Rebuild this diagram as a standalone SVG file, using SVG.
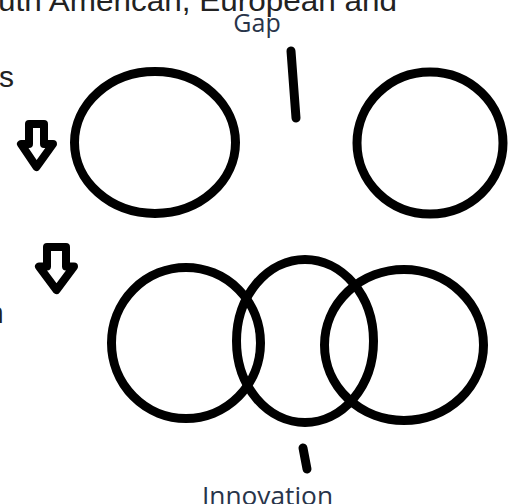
<svg xmlns="http://www.w3.org/2000/svg" width="530" height="504" viewBox="0 0 530 504">
<style>
.body{font-family:"Liberation Sans",Arial,sans-serif;font-size:30px;fill:#222}
.lbl{font-family:"Open Sans","Liberation Sans",sans-serif;font-size:25px;fill:#28344a}
.ring{fill:none;stroke:#000;stroke-width:9}
.tick{stroke:#000;stroke-width:9;stroke-linecap:round;fill:none}
.arr{fill:#fff;stroke:#000;stroke-width:8;stroke-linejoin:round}
</style>
<rect width="530" height="504" fill="#fff"/>
<g id="text-body">
<text class="body" x="-2" y="11" textLength="399" lengthAdjust="spacingAndGlyphs">uth American, European and</text>
<text class="body" x="-1" y="87">s</text>
<text class="body" x="-13" y="323">n</text>
</g>
<g id="arrow1"><path class="arr" d="M29,124 H44 V144 H53 L36.5,167 L21,144 H29 Z"/></g>
<g id="arrow2"><path class="arr" d="M47,247 H66 V266.5 H74 L56.5,290 L39,266.5 H47 Z"/></g>
<g id="gap">
<text class="lbl" x="257" y="32" text-anchor="middle">Gap</text>
</g>
<g id="top-left"><ellipse class="ring" cx="155" cy="142.5" rx="80.5" ry="71"/></g>
<g id="top-right"><ellipse class="ring" cx="430" cy="143" rx="73" ry="71"/></g>
<g id="bottom-1"><ellipse class="ring" cx="186" cy="343" rx="74.5" ry="75.5"/></g>
<g id="bottom-2"><ellipse class="ring" cx="305" cy="341" rx="68.5" ry="81.5"/></g>
<g id="bottom-3"><ellipse class="ring" cx="404" cy="345" rx="79.5" ry="75.5"/></g>
<g id="connectors">
<line class="tick" x1="291" y1="51" x2="296" y2="118"/>
<line class="tick" x1="303" y1="448" x2="307" y2="469"/>
</g>
<g id="innovation">
<text class="lbl" x="202" y="505" textLength="131" lengthAdjust="spacingAndGlyphs">Innovation</text>
</g>
</svg>
